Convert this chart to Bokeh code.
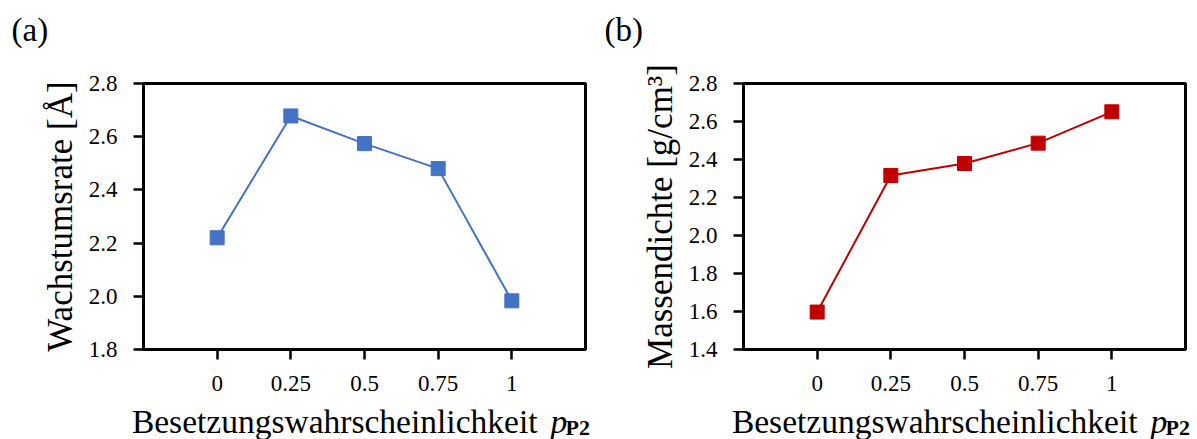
from bokeh.plotting import figure
from bokeh.layouts import row, column
from bokeh.models import FixedTicker, Label, Range1d, NumeralTickFormatter, PrintfTickFormatter
from bokeh.embed import file_html
from bokeh.resources import INLINE

# ---- data ----
p_values = [0, 0.25, 0.5, 0.75, 1]
x_tick_labels = ["0", "0.25", "0.5", "0.75", "1"]
growth_rate = [2.22, 2.678, 2.574, 2.48, 1.983]
mass_density = [1.597, 2.316, 2.379, 2.486, 2.651]
growth_ticks = [1.8, 2.0, 2.2, 2.4, 2.6, 2.8]
density_ticks = [1.4, 1.6, 1.8, 2.0, 2.2, 2.4, 2.6, 2.8]
x_title = "Besetzungswahrscheinlichkeit"
x_title_var = "p"
x_title_sub = "P2"
growth_title = "Wachstumsrate [Å]"
density_title = "Massendichte [g/cm³]"
panel_labels = ["(a)", "(b)"]

FONT = "Liberation Serif"
W = 1197
TOP_H, MID_H, BOT_H, OVERLAP = 60, 347, 48, 16


def make_panel(values, ticks, ylabel, color, width, bl, br, bt, bb):
    p = figure(width=width, height=MID_H, output_backend="svg", toolbar_location=None,
               x_range=Range1d(-0.25, 1.25), y_range=Range1d(ticks[0], ticks[-1]),
               min_border_left=bl, min_border_right=br, min_border_top=bt, min_border_bottom=bb)
    p.background_fill_color = "white"
    p.border_fill_color = "white"
    p.outline_line_color = "black"
    p.outline_line_width = 3
    p.xgrid.visible = False
    p.ygrid.visible = False

    p.line(p_values, values, line_color=color, line_width=2)
    p.scatter(p_values, values, marker="square", size=14, fill_color=color, line_color=color)

    for ax in (p.xaxis[0], p.yaxis[0]):
        ax.axis_line_color = "black"
        ax.axis_line_width = 3
        ax.major_tick_line_color = "black"
        ax.major_tick_line_width = 2.5
        ax.major_tick_out = 10
        ax.major_tick_in = 0
        ax.minor_tick_line_color = None
        ax.major_label_text_font = FONT
        ax.major_label_text_font_size = "23px"
        ax.major_label_text_color = "black"
        ax.axis_label_text_font = FONT
        ax.axis_label_text_font_style = "normal"
        ax.axis_label_text_font_size = "35px"
        ax.axis_label_text_color = "black"

    p.xaxis.ticker = FixedTicker(ticks=p_values)
    p.xaxis.formatter = NumeralTickFormatter(format="0.[00]")
    p.xaxis.major_label_overrides = {v: s for v, s in zip(p_values, x_tick_labels)}
    p.xaxis.major_label_standoff = 16

    p.yaxis.ticker = FixedTicker(ticks=ticks)
    p.yaxis.formatter = PrintfTickFormatter(format="%.1f")
    p.yaxis.major_label_standoff = 16
    p.yaxis.axis_label = ylabel
    p.yaxis.axis_label_standoff = 6
    return p


def strip(height, **kw):
    s = figure(width=W, height=height, output_backend="svg", toolbar_location=None,
               x_range=Range1d(0, W), y_range=Range1d(0, height),
               x_axis_type=None, y_axis_type=None, min_border=0, **kw)
    s.outline_line_color = None
    s.xgrid.visible = False
    s.ygrid.visible = False
    s.background_fill_color = None
    s.border_fill_color = None
    return s


def lab(fig, text, x, y, size, style="normal", align="left"):
    fig.add_layout(Label(x=x, y=y, text=text, text_font=FONT, text_font_size=size,
                         text_font_style=style, text_align=align,
                         text_baseline="alphabetic", text_color="black"))


p1 = make_panel(growth_rate, growth_ticks, growth_title, "#4472C4",
                width=598, bl=143, br=13, bt=83 - TOP_H, bb=TOP_H + MID_H - 352)
p2 = make_panel(mass_density, density_ticks, density_title, "#C00000",
                width=599, bl=145, br=12, bt=82 - TOP_H, bb=TOP_H + MID_H - 349)

# panel labels (a), (b)
top = strip(TOP_H)
for text, xpos in zip(panel_labels, [11, 604]):
    lab(top, text, xpos, 31, "33px")

# x axis titles: "Besetzungswahrscheinlichkeit p_P2" (strip overlaps the white area below the ticks)
bottom = strip(BOT_H, margin=(-OVERLAP, 0, 0, 0))
for x_end in [537, 1137]:
    lab(bottom, x_title, x_end, 18, "33.5px", align="right")
    lab(bottom, x_title_var, x_end + 13, 18, "33.5px", style="italic")
    lab(bottom, x_title_sub, x_end + 28, 12, "22px", style="bold")

layout = column(top, row(p1, p2), bottom)
open("out.html", "w").write(file_html(layout, INLINE))
